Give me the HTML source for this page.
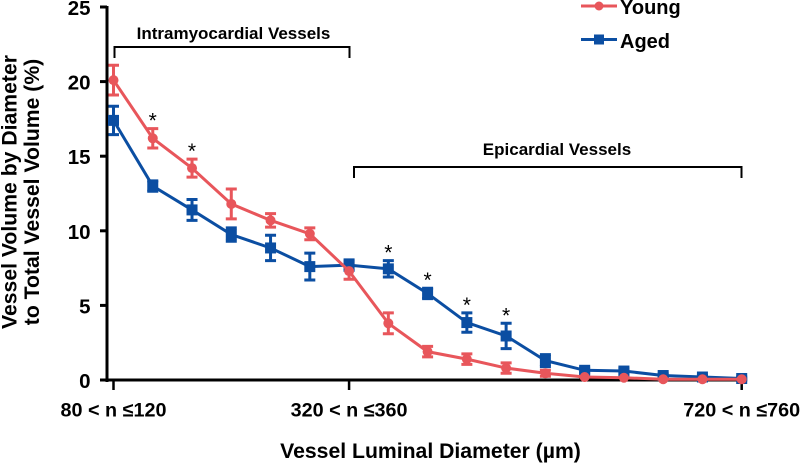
<!DOCTYPE html>
<html>
<head>
<meta charset="utf-8">
<style>
html,body{margin:0;padding:0;background:#fff;}
svg{display:block;}
text{font-family:"Liberation Sans",Arial,sans-serif;font-weight:bold;fill:#000;}
</style>
</head>
<body>
<svg id="chart" xmlns="http://www.w3.org/2000/svg" width="800" height="463" viewBox="0 0 800 463">
  <g id="errors-young"></g>
  <g id="errors-aged"></g>
  <g id="axes"></g>
  <g id="series"></g>
  <g id="stars"></g>

  <text transform="translate(16.500,192) rotate(-90)" text-anchor="middle" font-size="21.200">Vessel Volume by Diameter</text>
  <text transform="translate(39,192) rotate(-90)" text-anchor="middle" font-size="21.200">to Total Vessel Volume (%)</text>
  <text x="430.500" y="458" text-anchor="middle" font-size="21.200">Vessel Luminal Diameter (µm)</text>

  <path d="M114.5 58V47H349.5V58" fill="none" stroke="#000" stroke-width="2"/>
  <text x="233.500" y="39" text-anchor="middle" font-size="17">Intramyocardial Vessels</text>
  <path d="M354 178V167H741.500V178" fill="none" stroke="#000" stroke-width="2"/>
  <text x="557" y="155" text-anchor="middle" font-size="17">Epicardial Vessels</text>

  <g>
    <line x1="581" x2="617" y1="6" y2="6" stroke="#e8565b" stroke-width="3"/>
    <circle cx="599" cy="6" r="4.500" fill="#e8565b"/>
    <text x="620" y="14" font-size="20">Young</text>
    <line x1="581" x2="617" y1="39.500" y2="39.500" stroke="#0b4ea2" stroke-width="3"/>
    <rect x="594" y="34.500" width="10" height="10" fill="#0b4ea2"/>
    <text x="620" y="48" font-size="20">Aged</text>
  </g>
</svg>
<script>
const categoryIndex = [0,1,2,3,4,5,6,7,8,9,10,11,12,13,14,15,16];
const youngValues = [20.1,16.2,14.2,11.8,10.7,9.8,7.3,3.8,1.9,1.4,0.8,0.45,0.2,0.15,0.05,0.05,0.05];
const youngErrors = [1.0,0.65,0.6,1.0,0.45,0.4,0.55,0.7,0.35,0.35,0.35,0.2,0.1,0.1,0.05,0.05,0.05];
const agedValues = [17.4,13.0,11.4,9.75,8.85,7.6,7.7,7.45,5.8,3.85,2.95,1.3,0.65,0.6,0.3,0.2,0.1];
const agedErrors = [0.95,0.35,0.7,0.45,0.85,0.9,0.35,0.55,0.35,0.65,0.85,0.4,0.15,0.15,0.1,0.1,0.1];
const yTicks = [0,5,10,15,20,25];
const xTickIndex = [0,6,16];
const xTickLabels = ['80 < n ≤120','320 < n ≤360','720 < n ≤760'];
const starIndex = [1,2,7,8,9,10];

const NS = 'http://www.w3.org/2000/svg';
const yScale = v => 380 - v * 14.92;
const xScale = i => 113.5 + i * (741.7 - 113.5) / 16;
const RED = '#e8565b';
const BLUE = '#0b4ea2';

function mk(tag, parent, attrs) {
  const el = document.createElementNS(NS, tag);
  for (const k in attrs) el.setAttribute(k, attrs[k]);
  parent.appendChild(el);
  return el;
}

const axes = document.getElementById('axes');
const yAxis = mk('line', axes, {x1:107, x2:107, y1:yScale(25)-1, y2:yScale(0)+2, stroke:'#000', 'stroke-width':3});


const xAxis = mk('line', axes, {x1:100, x2:743, y1:yScale(0), y2:yScale(0), stroke:'#000', 'stroke-width':3});



yTicks.forEach(t => {
  const tick = mk('line', axes, {x1:100, x2:107, y1:yScale(t), y2:yScale(t), stroke:'#000', 'stroke-width':3});
  
  
  const label = mk('text', axes, {x:90.5, y:yScale(t)+8, 'text-anchor':'end', 'font-size':20.5});
  label.textContent = t;
  
  
});

xTickIndex.forEach((idx, n) => {
  const tick = mk('line', axes, {x1:xScale(idx), x2:xScale(idx), y1:yScale(0), y2:yScale(0)+10, stroke:'#000', 'stroke-width':2.5});
  
  
  const label = mk('text', axes, {x:xScale(idx), y:416.5, 'text-anchor':'middle', 'font-size':19.8});
  label.textContent = xTickLabels[n];
  
  
});

function drawErrors(groupId, values, errors, color) {
  const g = document.getElementById(groupId);
  categoryIndex.forEach(i => {
    const x = xScale(i);
    const top = yScale(values[i] + errors[i]);
    const bottom = yScale(Math.max(values[i] - errors[i], 0));
    const bar = mk('path', g, {
      d: 'M' + (x-5.5) + ' ' + top + 'H' + (x+5.5) + 'M' + x + ' ' + top + 'V' + bottom + 'M' + (x-5.5) + ' ' + bottom + 'H' + (x+5.5),
      fill:'none', stroke:color, 'stroke-width':3
    });
    
    
  });
}
drawErrors('errors-aged', agedValues, agedErrors, BLUE);
drawErrors('errors-young', youngValues, youngErrors, RED);

const seriesGroup = document.getElementById('series');
function linePoints(values) {
  return categoryIndex.map(i => xScale(i) + ',' + yScale(values[i])).join(' ');
}
const agedLine = mk('polyline', seriesGroup, {points:linePoints(agedValues), fill:'none', stroke:BLUE, 'stroke-width':3});


categoryIndex.forEach(i => {
  const m = mk('rect', seriesGroup, {x:xScale(i)-5.5, y:yScale(agedValues[i])-5.5, width:11, height:11, fill:BLUE});
  
  
});
const youngLine = mk('polyline', seriesGroup, {points:linePoints(youngValues), fill:'none', stroke:RED, 'stroke-width':3});


categoryIndex.forEach(i => {
  const m = mk('circle', seriesGroup, {cx:xScale(i), cy:yScale(youngValues[i]), r:5, fill:RED});
  
  
});

const starGroup = document.getElementById('stars');
starIndex.forEach(i => {
  const top = Math.max(youngValues[i] + youngErrors[i], agedValues[i] + agedErrors[i]);
  const s = mk('text', starGroup, {x:xScale(i), y:yScale(top)-1, 'text-anchor':'middle', 'font-size':21, style:'font-weight:normal'});
  s.textContent = '*';
  
  
});
</script>
</body>
</html>
